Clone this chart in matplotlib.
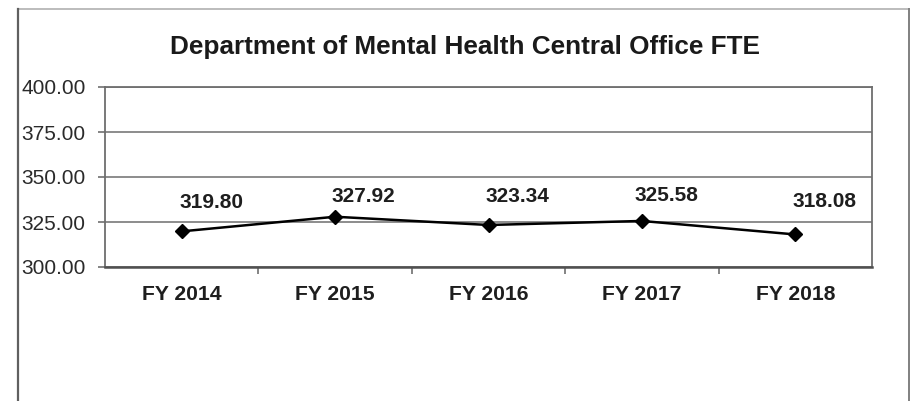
import matplotlib
matplotlib.use("Agg")
import matplotlib.pyplot as plt
from matplotlib.lines import Line2D

# Data
categories = ["FY 2014", "FY 2015", "FY 2016", "FY 2017", "FY 2018"]
fte = [319.80, 327.92, 323.34, 325.58, 318.08]
y_ticks = [300, 325, 350, 375, 400]

# Label placement (pixels right / up of each point)
label_dx = [30, 28, 29, 25, 29]
label_dy = [29, 20, 28, 25, 33]

W, H, DPI = 915, 401, 100
plt.rcParams["font.family"] = ["Liberation Sans", "DejaVu Sans"]

fig = plt.figure(figsize=(W / DPI, H / DPI), dpi=DPI)
fig.patch.set_facecolor("white")

# Outer chart frame
def px_line(x0, y0, x1, y1, color, lw):
    fig.add_artist(Line2D([x0 / W, x1 / W], [1 - y0 / H, 1 - y1 / H],
                          transform=fig.transFigure, color=color, lw=lw))

px_line(18, 9, 909, 9, "#b0b0b0", 1.2)
px_line(18, 9, 18, 401, "#606060", 1.6)
px_line(909, 9, 909, 401, "#808080", 1.4)

ax = fig.add_axes([105 / W, 1 - 267 / H, (872 - 105) / W, (267 - 87) / H])
x = list(range(len(categories)))

ax.plot(x, fte, color="black", lw=1.8, marker="D", markersize=7,
        markerfacecolor="black", markeredgecolor="black", zorder=3)

for xi, v, dx, dy in zip(x, fte, label_dx, label_dy):
    ax.annotate(f"{v:.2f}", (xi, v), xytext=(dx, dy), textcoords="offset pixels",
                ha="center", va="center", fontsize=15, fontweight="bold",
                color="#1e1e1e")

ax.set_xlim(-0.5, len(categories) - 0.5)
ax.set_ylim(300, 400)
ax.set_yticks(y_ticks)
ax.set_yticklabels([f"{t:.2f}" for t in y_ticks], fontsize=15, color="#2a2a2a")
ax.set_xticks(x)
ax.set_xticklabels(categories, fontsize=15.2, fontweight="bold", color="#1e1e1e")
ax.set_xticks([i + 0.5 for i in x[:-1]], minor=True)

ax.tick_params(axis="x", which="major", length=0, pad=13)
ax.tick_params(axis="x", which="minor", length=5, width=1.2, color="#707070", direction="out")
ax.tick_params(axis="y", which="major", length=5, width=1.2, color="#707070", pad=9)

ax.grid(axis="y", color="#6e6e6e", lw=1.1)
ax.set_axisbelow(True)
for side in ["left", "right", "top"]:
    ax.spines[side].set_color("#6e6e6e")
    ax.spines[side].set_linewidth(1.3)
ax.spines["bottom"].set_color("#505050")
ax.spines["bottom"].set_linewidth(1.8)

fig.text(465 / W, 1 - 47 / H, "Department of Mental Health Central Office FTE",
         ha="center", va="center", fontsize=18.8, fontweight="bold", color="#1a1a1a")

fig.savefig("out.png", dpi=DPI)
